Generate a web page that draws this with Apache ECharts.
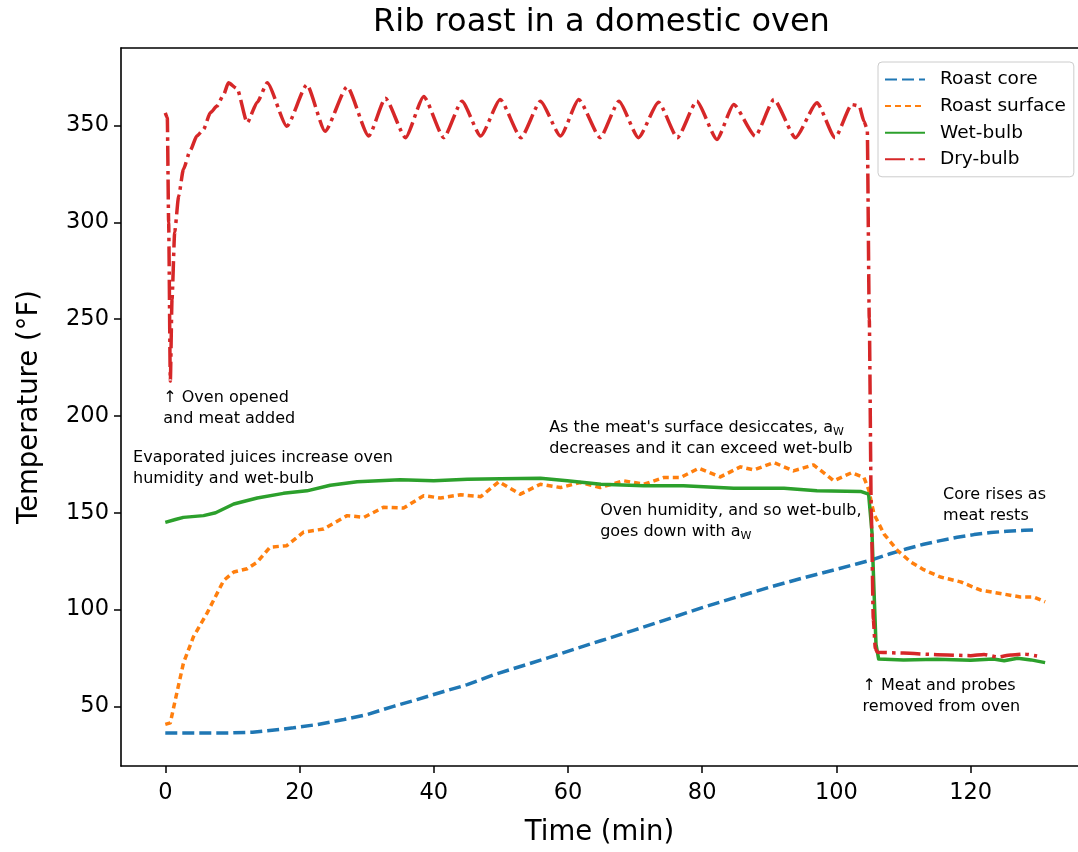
<!DOCTYPE html>
<html>
<head>
<meta charset="utf-8">
<script src="https://cdn.jsdelivr.net/npm/echarts@6/dist/echarts.min.js"></script>
<style>
html,body{margin:0;padding:0;background:#fff;}
#chart{width:1078px;height:852px;}
</style>
</head>
<body>
<div id="chart"></div>
<script>
// ---- data ----
const coreT = [0, 5, 10, 13, 15.2, 19.1, 22.6, 26.6, 30.1, 34, 37.5, 41.5, 45, 48.9, 52.9, 57, 61, 65, 70, 75, 80, 85, 90, 95, 100, 103, 105.6, 108, 110.5, 113, 115.5, 118, 120.5, 123, 125.4, 128, 130];
const coreV = [36.3, 36.2, 36.3, 36.6, 37.4, 38.9, 40.6, 43.2, 45.8, 50, 53.5, 57.7, 61.2, 66.3, 70.6, 75, 79.6, 84, 89.5, 95.2, 101, 106.3, 111.5, 116.3, 120.8, 123.5, 126, 128.8, 131.4, 133.7, 135.6, 137.3, 138.7, 139.8, 140.4, 140.9, 141.1];

const surfT = [0, 0.75, 1.5, 2.7, 4.2, 6.2, 8.7, 10.2, 12.2, 13.7, 15.6, 18.1, 20.6, 23.6, 27.1, 29.6, 32.5, 35.5, 38.5, 41, 44, 47, 49.7, 52.9, 55.9, 58.9, 61.8, 64.8, 68.3, 71.3, 74.3, 76.8, 79.5, 82.7, 85.7, 87.7, 90.7, 93.6, 96.6, 99.6, 102.3, 104.1, 104.8, 105.6, 107.1, 109.1, 111.1, 113, 115.5, 118.5, 121.5, 124.4, 127.4, 129.4, 131.1];
const surfV = [40.7, 41.5, 53.5, 72.3, 86, 98, 115, 119.4, 121.1, 124.5, 132.2, 133, 140, 141.6, 148.5, 147.6, 152.8, 152.4, 158.8, 157.6, 159.3, 158.3, 166, 159.6, 164.7, 163, 165.6, 163, 166.5, 164.7, 168.2, 168.2, 173, 168.5, 173.7, 172.1, 175.9, 171.6, 174.7, 166.5, 170.7, 168.2, 162, 149.3, 139, 130.5, 124.5, 120.6, 116.8, 114.3, 110, 108.3, 106.5, 106.5, 104];

const wetT = [0, 1.5, 2.7, 5.7, 7.5, 10.2, 13.7, 17.6, 21.1, 24.6, 28.6, 35, 40, 45, 50, 55.9, 59.9, 64.9, 71.3, 77.2, 84.7, 92.2, 97.1, 103.6, 104.8, 105.3, 105.6, 105.9, 106.3, 110, 115, 120, 123.4, 125, 127, 129, 131.1];
const wetV = [145, 146.5, 147.6, 148.5, 150, 154.5, 157.6, 160, 161.3, 164.2, 166, 167, 166.5, 167.3, 167.5, 167.8, 166.5, 164.7, 163.9, 163.9, 162.7, 162.7, 161.3, 161, 159.6, 140, 110, 82, 74.4, 74, 74.3, 73.8, 74.5, 73.6, 74.8, 74, 72.6];

const dryT = [0, 0.3, 0.5, 0.75, 1.0, 1.4, 2.0, 2.7, 3.7, 4.7, 5.7, 6.7, 7.7, 8.7, 9.4, 10.7, 12.2, 13.7, 15.2, 18.1, 21.1, 23.8, 27.1, 30.3, 32.8, 35.8, 38.5, 41.5, 44.2, 47, 49.9, 53, 55.9, 58.9, 61.6, 64.8, 67.6, 70.5, 73.5, 76.3, 79.2, 82.2, 84.7, 87.9, 90.7, 93.9, 97.1, 99.8, 102.3, 103.4, 104.1, 104.6, 104.9, 105.2, 105.5, 105.8, 106.1, 110, 115, 120, 122, 124, 126, 128, 129.9];
const dryV = [356.5, 354, 300, 218, 260, 295, 313.7, 327.4, 337, 344.5, 348, 356.5, 360, 366, 372, 369, 351.4, 362, 372, 349.6, 371, 347, 370, 344.5, 364, 343.7, 365, 343.7, 362.5, 344.5, 363.4, 343.7, 362.5, 344.5, 363.4, 343.7, 362.5, 343.7, 362, 343.7, 362.5, 342.8, 360.8, 344.5, 363.4, 343.7, 361.7, 343.7, 360.8, 360, 352.2, 348, 250, 150, 95, 80, 77.9, 77.5, 76.7, 76.2, 76.8, 75.5, 76.5, 77, 76];

const seriesNames = ['Roast core', 'Roast surface', 'Wet-bulb', 'Dry-bulb'];
const xTicks = [0, 20, 40, 60, 80, 100, 120];
const yTicks = [50, 100, 150, 200, 250, 300, 350];

// annotations: [x, y (data, top-left of text), text]
const annotations = [
  [-0.3, 214.5, '↑ Oven opened\nand meat added'],
  [-4.8, 183.6, 'Evaporated juices increase oven\nhumidity and wet-bulb'],
  [57.2, 199.5, "As the meat's surface desiccates, a{s|W}\ndecreases and it can exceed wet-bulb"],
  [64.8, 156.4, 'Oven humidity, and so wet-bulb,\ngoes down with a{s|W}'],
  [115.9, 164.6, 'Core rises as\nmeat rests'],
  [103.9, 66, '↑ Meat and probes\nremoved from oven']
];

const zip = (t, v) => t.map((x, i) => [x, v[i]]);
const FONT = 'DejaVu Sans';

const chart = echarts.init(document.getElementById('chart'), null, {renderer: 'canvas'});

function lineSeries(name, t, v, color, type, z, smooth) {
  return {
    name: name, type: 'line', data: zip(t, v), symbol: 'none', z: z,
    smooth: smooth || false, smoothMonotone: 'x',
    lineStyle: {color: color, width: 3.5, type: type, cap: 'butt', join: 'round'},
    itemStyle: {color: color},
    animation: false
  };
}

const option = {
  animation: false,
  backgroundColor: '#ffffff',
  title: {
    text: 'Rib roast in a domestic oven',
    left: 373, top: 7, padding: 0,
    textStyle: {fontFamily: FONT, fontSize: 32, fontWeight: 'normal', color: '#000'}
  },
  grid: {
    left: 121, top: 48, right: 0, bottom: 82, show: false
  },
  legend: {
    orient: 'vertical', left: 878, top: 62,
    data: seriesNames,
    itemWidth: 40, itemHeight: 14, itemGap: 7.6,
    padding: [8, 8, 8, 6],
    backgroundColor: 'rgba(255,255,255,0.8)', borderColor: '#cccccc', borderWidth: 1, borderRadius: 4,
    itemStyle: {opacity: 0},
    textStyle: {fontFamily: FONT, fontSize: 18.5, color: '#000', padding: [0, 0, 0, 10]},
    selectedMode: false
  },
  xAxis: [{
    type: 'value', min: -6.6, max: 136.0, position: 'bottom',
    name: 'Time (min)', nameLocation: 'middle', nameGap: 53,
    nameTextStyle: {fontFamily: FONT, fontSize: 27.5, color: '#000'},
    axisLine: {show: true, onZero: false, lineStyle: {color: '#000', width: 1.6}},
    axisTick: {show: true, length: 7, inside: false, lineStyle: {color: '#000', width: 1.5}, customValues: xTicks},
    axisLabel: {show: true, margin: 16, fontFamily: FONT, fontSize: 22.5, color: '#000', customValues: xTicks},
    splitLine: {show: false}
  }, {
    type: 'value', min: -6.6, max: 136.0, position: 'top',
    axisLine: {show: true, onZero: false, lineStyle: {color: '#000', width: 1.6}},
    axisTick: {show: false}, axisLabel: {show: false}, splitLine: {show: false}
  }],
  yAxis: {
    type: 'value', min: 19.2, max: 390,
    name: 'Temperature (°F)', nameLocation: 'middle', nameGap: 77, nameRotate: 90,
    nameTextStyle: {fontFamily: FONT, fontSize: 27.5, color: '#000'},
    axisLine: {show: true, onZero: false, lineStyle: {color: '#000', width: 1.6}},
    axisTick: {show: true, length: 7, inside: false, lineStyle: {color: '#000', width: 1.5}, customValues: yTicks},
    axisLabel: {show: true, margin: 12, fontFamily: FONT, fontSize: 22.5, color: '#000', customValues: yTicks},
    splitLine: {show: false}
  },
  series: [
    lineSeries(seriesNames[0], coreT, coreV, '#1f77b4', [12, 5], 2),
    lineSeries(seriesNames[1], surfT, surfV, '#ff7f0e', [6, 4], 3),
    lineSeries(seriesNames[2], wetT, wetV, '#2ca02c', 'solid', 4),
    lineSeries(seriesNames[3], dryT, dryV, '#d62728', [20, 5, 3.5, 5], 5, 0.2)
  ]
};
chart.setOption(option);

// place annotations at data coordinates
const graphics = annotations.map(a => {
  const p = chart.convertToPixel({xAxisIndex: 0, yAxisIndex: 0}, [a[0], a[1]]);
  return {
    type: 'text', x: p[0], y: p[1], z: 100,
    style: {
      text: a[2], fill: '#000', fontFamily: FONT, fontSize: 16, lineHeight: 21,
      align: 'left', verticalAlign: 'top',
      rich: {s: {fontSize: 11, fontFamily: FONT, fill: '#000', lineHeight: 21, padding: [9, 0, 0, 0]}}
    }
  };
});
chart.setOption({graphic: graphics});
</script>
</body>
</html>
